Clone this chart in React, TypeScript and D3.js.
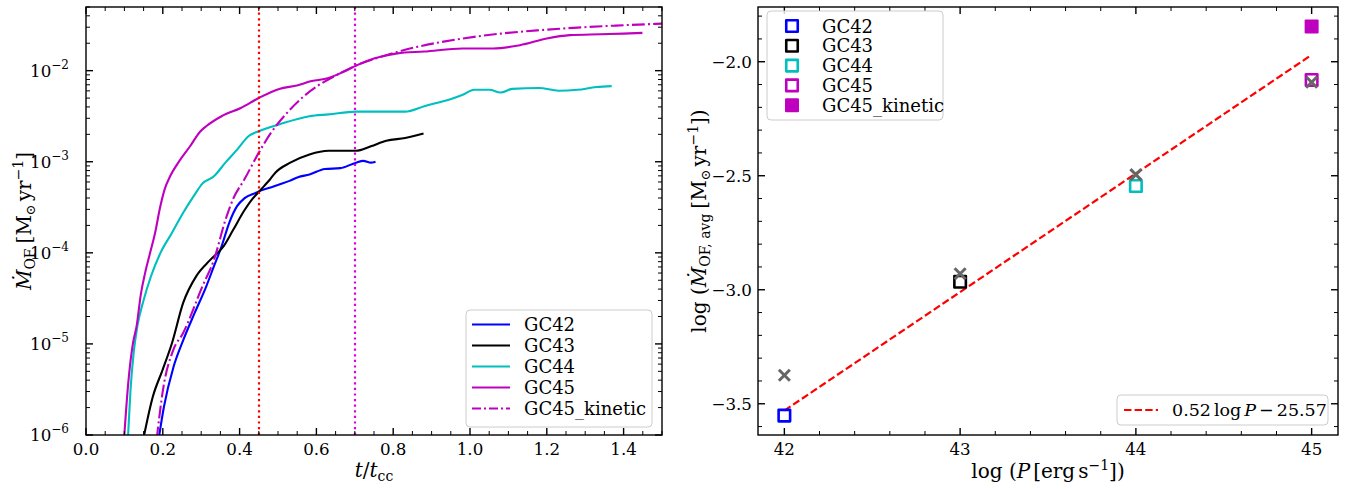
import React from "react";
import * as d3 from "d3";

const W = 1354;
const H = 489;
const FONT = "'DejaVu Serif', 'Liberation Serif', serif";

// ---------- outflow-rate histories: [t / t_cc, log10(Mdot_OF / Msun yr^-1)] ----------
const gc42: [number, number][] = [
  [0.189, -6.05], [0.203, -5.69], [0.228, -5.25], [0.253, -4.96], [0.283, -4.66],
  [0.313, -4.37], [0.333, -4.15], [0.353, -3.93], [0.373, -3.67], [0.393, -3.49],
  [0.413, -3.4], [0.443, -3.34], [0.453, -3.32], [0.483, -3.28], [0.503, -3.25],
  [0.53, -3.21], [0.552, -3.17], [0.582, -3.14], [0.622, -3.08], [0.662, -3.07],
  [0.703, -3.01], [0.722, -2.99], [0.742, -3.01], [0.754, -3.0],
];
const gc43: [number, number][] = [
  [0.149, -6.05], [0.174, -5.58], [0.199, -5.29], [0.224, -4.99], [0.253, -4.55],
  [0.288, -4.25], [0.323, -4.08], [0.358, -3.93], [0.383, -3.75], [0.413, -3.53],
  [0.433, -3.41], [0.448, -3.34], [0.463, -3.27], [0.478, -3.2], [0.493, -3.12],
  [0.532, -3.01], [0.582, -2.92], [0.632, -2.88], [0.703, -2.88], [0.742, -2.83],
  [0.782, -2.77], [0.831, -2.74], [0.879, -2.69],
];
const gc44: [number, number][] = [
  [0.109, -6.05], [0.116, -5.5], [0.124, -5.1], [0.134, -4.8], [0.15, -4.52],
  [0.169, -4.26], [0.194, -4.0], [0.224, -3.78], [0.253, -3.56], [0.283, -3.36],
  [0.303, -3.24], [0.333, -3.16], [0.363, -3.01], [0.393, -2.87], [0.423, -2.72],
  [0.45, -2.665], [0.503, -2.59], [0.582, -2.5], [0.632, -2.48], [0.703, -2.45],
  [0.771, -2.45], [0.831, -2.45], [0.881, -2.39], [0.951, -2.31], [0.981, -2.265],
  [1.011, -2.21], [1.051, -2.21], [1.08, -2.24], [1.11, -2.2], [1.18, -2.19],
  [1.23, -2.22], [1.28, -2.21], [1.329, -2.18], [1.369, -2.17],
];
const gc45: [number, number][] = [
  [0.099, -6.05], [0.11, -5.43], [0.122, -5.0], [0.132, -4.8], [0.143, -4.45],
  [0.154, -4.22], [0.167, -4.0], [0.18, -3.78], [0.193, -3.5], [0.205, -3.3],
  [0.219, -3.16], [0.245, -2.98], [0.271, -2.83], [0.297, -2.67], [0.313, -2.61],
  [0.353, -2.5], [0.403, -2.41], [0.45, -2.3], [0.503, -2.2], [0.552, -2.16],
  [0.582, -2.12], [0.632, -2.08], [0.672, -2.01], [0.703, -1.945], [0.752, -1.865],
  [0.811, -1.81], [0.881, -1.79], [0.981, -1.756], [1.06, -1.756], [1.13, -1.72],
  [1.2, -1.647], [1.26, -1.61], [1.339, -1.6], [1.399, -1.593], [1.449, -1.585],
];
const gc45Kinetic: [number, number][] = [
  [0.184, -6.05], [0.201, -5.49], [0.227, -5.07], [0.253, -4.88], [0.303, -4.37],
  [0.333, -4.08], [0.363, -3.64], [0.383, -3.41], [0.413, -3.19], [0.45, -2.9],
  [0.482, -2.68], [0.522, -2.47], [0.562, -2.3], [0.602, -2.17], [0.652, -2.05],
  [0.703, -1.945], [0.782, -1.83], [0.861, -1.74], [0.981, -1.647], [1.08, -1.593],
  [1.18, -1.556], [1.28, -1.527], [1.379, -1.505], [1.5, -1.484],
];

const runNames = ["GC42", "GC43", "GC44", "GC45", "GC45_kinetic"];
const runColors = ["#0000ff", "#000000", "#00bfbf", "#bf00bf", "#bf00bf"];
const runDashes = ["", "", "", "", "12.8,3.2,2,3.2"];
const histories = [gc42, gc43, gc44, gc45, gc45Kinetic];

// reference times marked by vertical dotted lines
const markerTimes = [0.45, 0.7];
const markerColors = ["#ff0000", "#dd00dd"];

const timeTicks = [0, 0.2, 0.4, 0.6, 0.8, 1.0, 1.2, 1.4];
const rateDecades = [-6, -5, -4, -3, -2];

// ---------- time-averaged outflow rate vs jet power ----------
const logPower = [42, 43, 44, 45];
const avgRunColors = ["#0000ff", "#000000", "#00bfbf", "#bf00bf"];
const logAvgRate = [-3.552, -2.965, -2.545, -2.08];
const logAvgRateAlt = [-3.375, -2.93, -2.495, -2.09];
const kineticLogPower = 45;
const kineticLogAvgRate = -1.845;
const fitSlope = 0.52;
const fitIntercept = -25.37;

const powerTicks = [42, 43, 44, 45];
const avgRateTicks = [-3.5, -3.0, -2.5, -2.0];

const fmt1 = (v: number) => v.toFixed(1).replace("-", "\u2212");

// ---------- geometry ----------
const L = { x0: 86, x1: 662, y0: 7, y1: 435 };
const R = { x0: 758, x1: 1338, y0: 7, y1: 435 };

const MAJ = 7;
const MIN = 4;

function Ticks({ xs, ys, box, len, width }: { xs: number[]; ys: number[]; box: typeof L; len: number; width: number }) {
  return (
    <g stroke="#000" strokeWidth={width}>
      {xs.map((x, i) => (
        <g key={"x" + i}>
          <line x1={x} x2={x} y1={box.y1} y2={box.y1 - len} />
          <line x1={x} x2={x} y1={box.y0} y2={box.y0 + len} />
        </g>
      ))}
      {ys.map((y, i) => (
        <g key={"y" + i}>
          <line x1={box.x0} x2={box.x0 + len} y1={y} y2={y} />
          <line x1={box.x1} x2={box.x1 - len} y1={y} y2={y} />
        </g>
      ))}
    </g>
  );
}

export default function App() {
  // left panel scales
  const xL = d3.scaleLinear().domain([0, 1.5]).range([L.x0, L.x1]);
  const yL = d3.scaleLog().domain([1e-6, 0.05]).range([L.y1, L.y0]);
  const line = d3
    .line<[number, number]>()
    .x((d) => xL(d[0]))
    .y((d) => yL(Math.pow(10, d[1])))
    .curve(d3.curveMonotoneX);

  const minorT = d3.range(0, 1.5001, 0.05).filter((t) => Math.abs(t / 0.2 - Math.round(t / 0.2)) > 1e-6);
  const minorRate: number[] = [];
  rateDecades.forEach((d) => {
    for (let k = 2; k <= 9; k++) {
      const v = k * Math.pow(10, d);
      if (v <= 0.05 + 1e-12) minorRate.push(v);
    }
  });

  // right panel scales
  const xR = d3.scaleLinear().domain([41.85, 45.15]).range([R.x0, R.x1]);
  const yR = d3.scaleLinear().domain([-3.637, -1.76]).range([R.y1, R.y0]);
  const minorP = d3.range(42, 45.0001, 0.2).filter((p) => Math.abs(p - Math.round(p)) > 1e-6);
  const minorA = d3.range(-3.6, -1.79, 0.1).filter((a) => Math.abs(a * 2 - Math.round(a * 2)) > 1e-6);

  const sq = 11.5;
  const xm = 5.5;

  return (
    <svg
      width={W}
      height={H}
      viewBox={`0 0 ${W} ${H}`}
      style={{ position: "absolute", left: 0, top: 0, background: "#fff" }}
      fontFamily={FONT}
    >
      <defs>
        <clipPath id="clipL">
          <rect x={L.x0} y={L.y0} width={L.x1 - L.x0} height={L.y1 - L.y0} />
        </clipPath>
        <clipPath id="clipR">
          <rect x={R.x0} y={R.y0} width={R.x1 - R.x0} height={R.y1 - R.y0} />
        </clipPath>
      </defs>
      <rect width={W} height={H} fill="#fff" />

      {/* ================= left panel ================= */}
      <g clipPath="url(#clipL)">
        {histories.map((h, i) => (
          <path
            key={runNames[i]}
            d={line(h) || ""}
            fill="none"
            stroke={runColors[i]}
            strokeWidth={2.1}
            strokeDasharray={runDashes[i] || undefined}
            strokeLinejoin="round"
          />
        ))}
        {markerTimes.map((t, i) => {
          const x = Math.round(xL(t));
          return (
            <line
              key={"m" + i}
              x1={x}
              x2={x}
              y1={L.y0}
              y2={L.y1}
              stroke={markerColors[i]}
              strokeWidth={2.2}
              strokeDasharray="2.2,3.4"
            />
          );
        })}
      </g>

      <Ticks xs={timeTicks.map((t) => xL(t))} ys={rateDecades.map((d) => yL(Math.pow(10, d)))} box={L} len={MAJ} width={1.4} />
      <Ticks xs={minorT.map((t) => xL(t))} ys={minorRate.map((v) => yL(v))} box={L} len={MIN} width={1} />
      <rect x={L.x0} y={L.y0} width={L.x1 - L.x0} height={L.y1 - L.y0} fill="none" stroke="#000" strokeWidth={1.4} />

      {timeTicks.map((t) => (
        <text key={"tl" + t} x={xL(t)} y={455} fontSize={16.7} textAnchor="middle" fill="#000">
          {t.toFixed(1)}
        </text>
      ))}
      {rateDecades.map((d) => (
        <text key={"rl" + d} x={69} y={yL(Math.pow(10, d)) + 6.2} fontSize={16.7} textAnchor="end" fill="#000">
          10
          <tspan dy={-8} fontSize={12}>
            {"\u2212" + Math.abs(d)}
          </tspan>
        </text>
      ))}

      <text x={(L.x0 + L.x1) / 2} y={477} fontSize={20} textAnchor="middle" fill="#000">
        <tspan fontStyle="italic">t</tspan>/<tspan fontStyle="italic">t</tspan>
        <tspan fontSize={14} dy={4}>cc</tspan>
      </text>
      <text transform={`translate(31,${(L.y0 + L.y1) / 2}) rotate(-90)`} fontSize={20} textAnchor="middle" fill="#000">
        <tspan fontStyle="italic">{"\u1E40"}</tspan>
        <tspan fontSize={14} dy={4}>OF</tspan>
        <tspan dy={-4} dx={5}>[M</tspan>
        <tspan fontSize={13} dy={4}>{"\u2299"}</tspan>
        <tspan dy={-4} dx={3}>yr</tspan>
        <tspan fontSize={14} dy={-8}>{"\u22121"}</tspan>
        <tspan dy={8}>]</tspan>
      </text>

      {/* legend, left panel */}
      <g>
        <rect x={466} y={310} width={186} height={117} rx={4} fill="#fff" fillOpacity={0.8} stroke="#cccccc" strokeWidth={1} />
        {runNames.map((n, i) => {
          const y = 324.5 + i * 21;
          return (
            <g key={"lg" + n}>
              <line x1={472} x2={510} y1={y} y2={y} stroke={runColors[i]} strokeWidth={2.1} strokeDasharray={runDashes[i] ? "9,3,2,3" : undefined} />
              <text x={524} y={y + 6.5} fontSize={18} fill="#000">
                {n}
              </text>
            </g>
          );
        })}
      </g>

      {/* ================= right panel ================= */}
      <g clipPath="url(#clipR)">
        <line
          x1={xR(42)}
          x2={xR(45)}
          y1={yR(fitSlope * 42 + fitIntercept)}
          y2={yR(fitSlope * 45 + fitIntercept)}
          stroke="#ff0000"
          strokeWidth={2.2}
          strokeDasharray="7.4,3.2"
        />
        {logPower.map((p, i) => (
          <rect
            key={"sq" + i}
            x={xR(p) - sq / 2}
            y={yR(logAvgRate[i]) - sq / 2}
            width={sq}
            height={sq}
            fill="none"
            stroke={avgRunColors[i]}
            strokeWidth={2.6}
            strokeLinejoin="round"
          />
        ))}
        <rect
          x={xR(kineticLogPower) - 7}
          y={yR(kineticLogAvgRate) - 7}
          width={14}
          height={14}
          rx={1.2}
          fill="#bf00bf"
        />
        {logPower.map((p, i) => {
          const cx = xR(p);
          const cy = yR(logAvgRateAlt[i]);
          return (
            <g key={"x" + i} stroke="#666666" strokeWidth={3}>
              <line x1={cx - xm} x2={cx + xm} y1={cy - xm} y2={cy + xm} />
              <line x1={cx - xm} x2={cx + xm} y1={cy + xm} y2={cy - xm} />
            </g>
          );
        })}
      </g>

      <Ticks xs={powerTicks.map((p) => xR(p))} ys={avgRateTicks.map((a) => yR(a))} box={R} len={MAJ} width={1.4} />
      <Ticks xs={minorP.map((p) => xR(p))} ys={minorA.map((a) => yR(a))} box={R} len={MIN} width={1} />
      <rect x={R.x0} y={R.y0} width={R.x1 - R.x0} height={R.y1 - R.y0} fill="none" stroke="#000" strokeWidth={1.4} />

      {powerTicks.map((p) => (
        <text key={"pl" + p} x={xR(p)} y={455} fontSize={16.7} textAnchor="middle" fill="#000">
          {p}
        </text>
      ))}
      {avgRateTicks.map((a) => (
        <text key={"al" + a} x={752} y={yR(a) + 6} fontSize={16.7} textAnchor="end" fill="#000">
          {fmt1(a)}
        </text>
      ))}

      <text x={(R.x0 + R.x1) / 2} y={478} fontSize={20} textAnchor="middle" fill="#000">
        log (<tspan fontStyle="italic">P</tspan>
        <tspan dx={3}>[erg</tspan>
        <tspan dx={3}>s</tspan>
        <tspan fontSize={14} dy={-8}>{"\u22121"}</tspan>
        <tspan dy={8}>])</tspan>
      </text>
      <text transform={`translate(706,${(R.y0 + R.y1) / 2}) rotate(-90)`} fontSize={20} textAnchor="middle" fill="#000">
        log (<tspan fontStyle="italic">{"\u1E40"}</tspan>
        <tspan fontSize={14} dy={4}>OF, avg</tspan>
        <tspan dy={-4} dx={5}>[M</tspan>
        <tspan fontSize={13} dy={4}>{"\u2299"}</tspan>
        <tspan dy={-4} dx={3}>yr</tspan>
        <tspan fontSize={14} dy={-8}>{"\u22121"}</tspan>
        <tspan dy={8}>])</tspan>
      </text>

      {/* legend, markers */}
      <g>
        <rect x={767} y={11} width={176} height={109} rx={4} fill="#fff" fillOpacity={0.8} stroke="#cccccc" strokeWidth={1} />
        {runNames.map((n, i) => {
          const y = 26 + i * 19.8;
          const filled = i === 4;
          return (
            <g key={"rg" + n}>
              {filled ? (
                <rect x={792 - 7} y={y - 7} width={14} height={14} rx={1.2} fill="#bf00bf" />
              ) : (
                <rect x={792 - sq / 2} y={y - sq / 2} width={sq} height={sq} fill="none" stroke={avgRunColors[i]} strokeWidth={2.6} strokeLinejoin="round" />
              )}
              <text x={822} y={y + 6.5} fontSize={18} fill="#000">
                {n}
              </text>
            </g>
          );
        })}
      </g>

      {/* legend, fit */}
      <g>
        <rect x={1117} y={395} width={211} height={30} rx={4} fill="#fff" fillOpacity={0.8} stroke="#cccccc" strokeWidth={1} />
        <line x1={1124} x2={1158} y1={410} y2={410} stroke="#ff0000" strokeWidth={2.2} strokeDasharray="7.4,3.2" />
        <text x={1172} y={416} fontSize={17.5} fill="#000">
          0.52
          <tspan dx={3}>log</tspan>
          <tspan dx={3} fontStyle="italic">P</tspan>
          <tspan dx={3}>{"\u2212"}</tspan>
          <tspan dx={3}>25.57</tspan>
        </text>
      </g>
    </svg>
  );
}
